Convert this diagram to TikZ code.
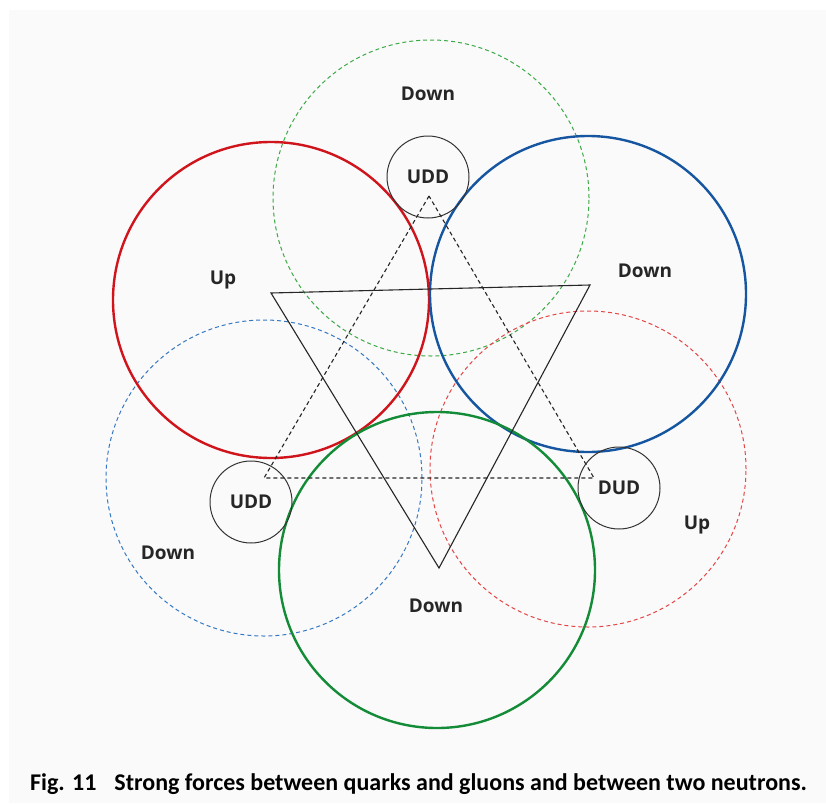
\documentclass[tikz,border=0pt]{standalone}
\usepackage{fontspec}
\setmainfont{Open Sans}
\newfontfamily\capfont{Carlito}
\begin{document}
\begin{tikzpicture}[x={(1pt,0)},y={(0,-1pt)},
  big/.style={circle,minimum size=316pt,inner sep=0pt,outer sep=0pt},
  solidc/.style={big,draw,line width=2.4pt},
  dashc/.style={big,draw,line width=1pt,dash pattern=on 4pt off 3pt},
  quark/.style={circle,draw=black!80,line width=1pt,minimum size=82pt,inner sep=0pt,font=\bfseries\fontsize{19}{22}\selectfont,text=black!85},
  lbl/.style={font=\bfseries\fontsize{19}{22}\selectfont,text=black!85,inner sep=0pt},
  tri/.style={draw=black!85,line width=1.1pt,line join=miter},
  dtri/.style={draw=black!85,line width=1.1pt,dash pattern=on 4pt off 3pt}]
\definecolor{cred}{RGB}{208,20,28}
\definecolor{cblue}{RGB}{22,86,160}
\definecolor{cgreen}{RGB}{20,140,55}
\definecolor{dgreen}{RGB}{60,170,70}
\definecolor{dblue}{RGB}{55,120,195}
\definecolor{dred}{RGB}{228,70,70}
\definecolor{panel}{RGB}{250,250,250}
\useasboundingbox (0,0) rectangle (826,803);
\fill[white] (0,0) rectangle (826,803);
\fill[panel] (9,10) rectangle (826,803);
% dashed circles
\node[dashc,draw=dgreen] (gd) at (431,198) {};
\node[dashc,draw=dblue] (bd) at (264,478) {};
\node[dashc,draw=dred] (rd) at (588,469) {};
% solid circles
\node[solidc,draw=cred] (rs) at (271,300) {};
\node[solidc,draw=cblue] (bs) at (588,294) {};
\node[solidc,draw=cgreen] (gs) at (437,570) {};
% triangles
\coordinate (t1) at (271,293);
\coordinate (t2) at (590,285);
\coordinate (t3) at (439,568);
\draw[tri] (t1) -- (t2) -- (t3) -- cycle;
\coordinate (d1) at (429,196);
\coordinate (d2) at (264,478);
\coordinate (d3) at (594,478);
\draw[dtri] (d1) -- (d2) -- (d3) -- cycle;
% quark circles
\node[quark] (q1) at (428,177) {UDD};
\node[quark] (q2) at (251,502) {UDD};
\node[quark] (q3) at (619,488) {DUD};
% labels
\node[lbl] (l1) at (428,94) {Down};
\node[lbl] (l2) at (223,280) {Up};
\node[lbl] (l3) at (645,271) {Down};
\node[lbl] (l4) at (168,553) {Down};
\node[lbl] (l5) at (697,525) {Up};
\node[lbl] (l6) at (436,606) {Down};
% caption
\node[anchor=west,inner sep=0pt,font=\capfont\bfseries\fontsize{24}{28}\selectfont] (cap) at (30,784) {Fig. 11\hspace{18pt}Strong forces between quarks and gluons and between two neutrons.};
\end{tikzpicture}
\end{document}
